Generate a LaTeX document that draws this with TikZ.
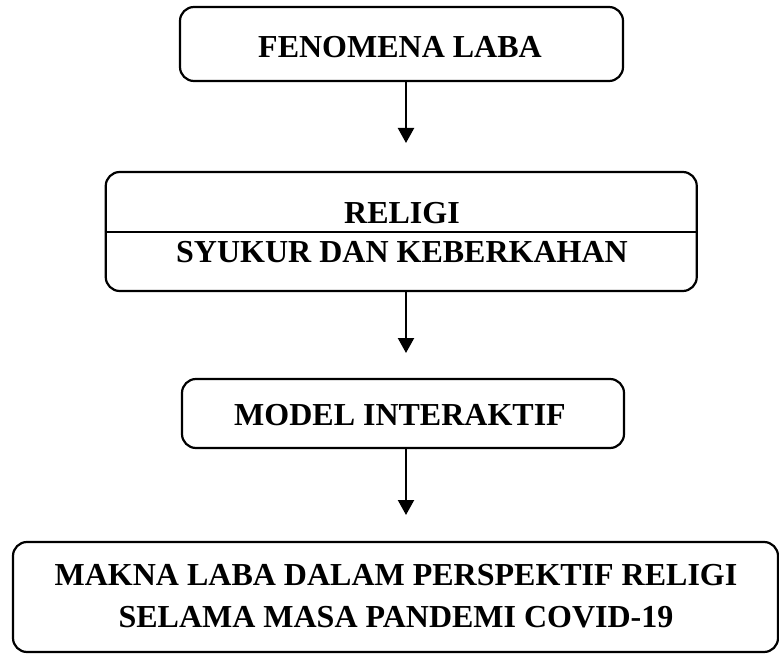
\documentclass[tikz,border=0pt]{standalone}
\usepackage{fontspec}
\setmainfont{Liberation Serif}
\usetikzlibrary{arrows.meta}
\begin{document}
\begin{tikzpicture}[x=1pt,y=-1pt,
  boxstyle/.style={draw=black,line width=2.2pt,rounded corners=14pt,inner sep=0pt,fill=white},
  lbl/.style={anchor=base,inner sep=0pt,font=\fontsize{32}{38}\selectfont\bfseries},
  arr/.style={line width=2.2pt,-{Triangle[width=16pt,length=15pt]}}]
\useasboundingbox (0,0) rectangle (779,655);
% boxes
\node[boxstyle,minimum width=443pt,minimum height=74pt] (b1) at (401.5,44) {};
\node[boxstyle,minimum width=591pt,minimum height=119pt] (b2) at (401.25,231.5) {};
\node[boxstyle,minimum width=442pt,minimum height=69pt] (b3) at (403,413.5) {};
\node[boxstyle,minimum width=765pt,minimum height=110pt] (b4) at (395.5,597) {};
% divider in box 2
\coordinate (dl) at (105.5,232);
\coordinate (dr) at (697,232);
\draw[line width=1.5pt] (dl -| b2.west) -- (dr -| b2.east);
% texts
\node[lbl] (t1) at (400,58) {FENOMENA LABA};
\node[lbl] (t2a) at (402,223) {RELIGI};
\node[lbl] (t2b) at (402,262) {SYUKUR DAN KEBERKAHAN};
\node[lbl] (t3) at (400,425) {MODEL INTERAKTIF};
\node[lbl] (t4a) at (396,585) {MAKNA LABA DALAM PERSPEKTIF RELIGI};
\node[lbl] (t4b) at (396,627) {SELAMA MASA PANDEMI COVID-19};
% arrows
\coordinate (e1) at (406,143);
\coordinate (e2) at (406,353);
\coordinate (e3) at (406,515);
\draw[arr] (b1.south -| e1) -- (e1);
\draw[arr] (b2.south -| e2) -- (e2);
\draw[arr] (b3.south -| e3) -- (e3);
\end{tikzpicture}
\end{document}
